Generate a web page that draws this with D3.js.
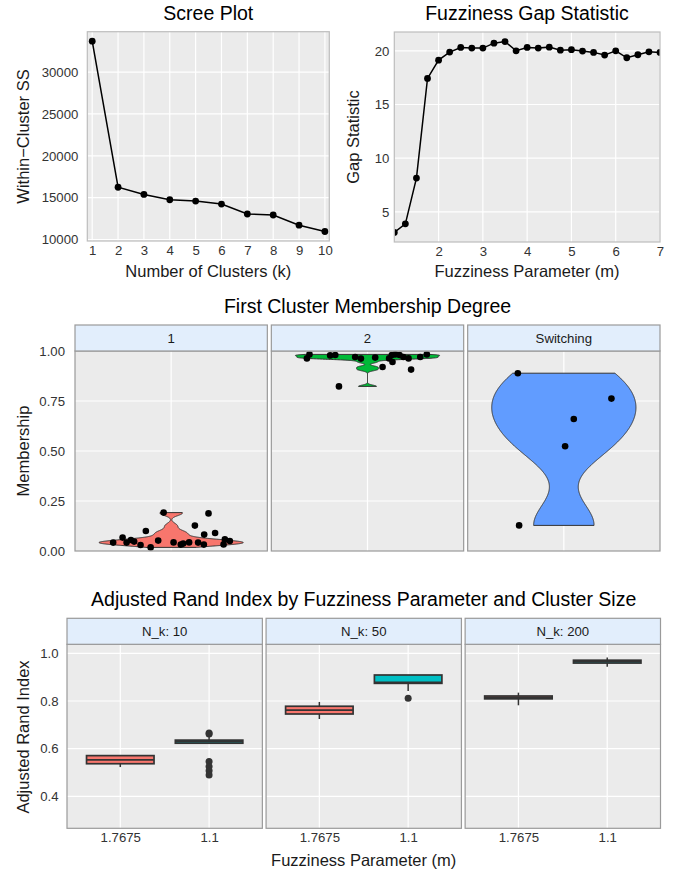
<!DOCTYPE html>
<meta charset="utf-8">
<style>
  body { margin: 0; background: #fff; }
  text { font-family: 'Liberation Sans', Arial, sans-serif; fill: #1a1a1a; }
  .tick text { font-size: 13.2px; fill: #333; }
  .axis-title { font-size: 16.5px; }
  .plot-title { font-size: 19.5px; fill: #000; }
  .strip-text { font-size: 13.2px; }
</style>
<body>
<script src="https://d3js.org/d3.v7.min.js"></script>
<script>

// ---- scree plot data
const screeK = [1, 2, 3, 4, 5, 6, 7, 8, 9, 10];
const screeSS = [33680, 16250, 15390, 14760, 14600, 14240, 13060, 12940, 11720, 10970];
const screeYTicks = [10000, 15000, 20000, 25000, 30000];

// ---- fuzziness gap statistic data
const gapM = [1, 1.25, 1.5, 1.75, 2, 2.25, 2.5, 2.75, 3, 3.25, 3.5, 3.75, 4, 4.25, 4.5,
              4.75, 5, 5.25, 5.5, 5.75, 6, 6.25, 6.5, 6.75, 7];
const gapStat = [3.09, 3.89, 8.15, 17.43, 19.13, 19.88, 20.31, 20.25, 20.25, 20.71, 20.86, 20.0, 20.31,
                 20.25, 20.34, 20.06, 20.1, 19.97, 19.85, 19.6, 20.0, 19.35, 19.63, 19.9, 19.85];
const gapXTicks = [2, 3, 4, 5, 6, 7];
const gapYTicks = [5, 10, 15, 20];

// ---- membership (violin + jittered points), jitter in x units
const memGroups = ["1", "2", "Switching"];
const memColors = ["#F8766D", "#00BA38", "#619CFF"];
const mem1 = [0.042, 0.067, 0.042, 0.055, 0.047, 0.030, 0.100, 0.018, 0.052, 0.192, 0.043, 0.032,
              0.037, 0.043, 0.127, 0.042, 0.032, 0.082, 0.188, 0.090, 0.033, 0.058, 0.050];
const jit1 = [-0.362, -0.303, -0.278, -0.251, -0.231, -0.191, -0.158, -0.128, -0.081, -0.047, 0.015, 0.060,
              0.075, 0.112, 0.148, 0.168, 0.204, 0.206, 0.233, 0.274, 0.327, 0.335, 0.366];
const mem2 = [0.963, 0.983, 0.978, 0.980, 0.823, 0.970, 0.962, 0.967, 0.920, 0.963, 0.980, 0.945,
              0.983, 0.980, 0.970, 0.963, 0.907, 0.970, 0.983];
const jit2 = [-0.378, -0.362, -0.233, -0.201, -0.178, -0.077, -0.041, 0.048, 0.094, 0.135, 0.152, 0.156,
              0.173, 0.200, 0.224, 0.256, 0.272, 0.329, 0.370];
const mem3 = [0.889, 0.762, 0.660, 0.524, 0.128];
const jit3 = [-0.287, 0.297, 0.062, 0.008, -0.279];
const memYTicks = [0, 0.25, 0.5, 0.75, 1];

// ---- adjusted rand index boxplots (order: N_k 10, 50, 200 x m 1.7675, 1.1)
const ariSizes = ["N_k: 10", "N_k: 50", "N_k: 200"];
const ariM = ["1.7675", "1.1"];
const ariColors = ["#F8766D", "#00BFC4"];
const ariLo  = [0.523, 0.622, 0.7245, 0.842, 0.782, 0.944];
const ariQ1  = [0.537, 0.623, 0.7455, 0.874, 0.809, 0.959];
const ariMed = [0.553, 0.630, 0.762, 0.878, 0.815, 0.965];
const ariQ3  = [0.571, 0.636, 0.778, 0.909, 0.821, 0.971];
const ariHi  = [0.571, 0.650, 0.796, 0.909, 0.835, 0.982];
const ariOut = [[], [0.666, 0.662, 0.546, 0.525, 0.508, 0.490], [], [0.811], [], []];
const ariYTicks = [0.4, 0.6, 0.8, 1.0];

const svg = d3.select("body").append("svg")
    .attr("width", 686)
    .attr("height", 873);

function padded(v) {
  var lo = d3.min(v), hi = d3.max(v), r = hi - lo;
  return [lo - 0.05 * r, hi + 0.05 * r];
}

function bg(x0, x1, y0, y1) {
  svg.append("rect").attr("x", x0).attr("y", y0).attr("width", x1 - x0).attr("height", y1 - y0)
      .attr("fill", "#EBEBEB");
}
function frame(x0, x1, y0, y1, col) {
  svg.append("rect").attr("x", x0).attr("y", y0).attr("width", x1 - x0).attr("height", y1 - y0)
      .attr("fill", "none").attr("stroke", col || "#9a9a9a").attr("stroke-width", 1.2);
}
function hgrid(vals, y, x0, x1) {
  svg.append("g").selectAll("line").data(vals).enter().append("line")
      .attr("x1", x0).attr("x2", x1).attr("y1", d => y(d)).attr("y2", d => y(d))
      .attr("stroke", "#fff").attr("stroke-width", 1.2);
}
function vgrid(vals, x, y0, y1) {
  svg.append("g").selectAll("line").data(vals).enter().append("line")
      .attr("y1", y0).attr("y2", y1).attr("x1", d => x(d)).attr("x2", d => x(d))
      .attr("stroke", "#fff").attr("stroke-width", 1.2);
}
function title(x, y, str, cls) {
  svg.append("text").attr("class", cls).attr("x", x).attr("y", y).attr("dy", "0.35em")
      .attr("text-anchor", "middle").text(str);
}
function ytitle(x, y, str) {
  svg.append("text").attr("class", "axis-title")
      .attr("transform", "translate(" + x + "," + y + ") rotate(-90)")
      .attr("dy", "0.35em").attr("text-anchor", "middle").text(str);
}
function leftAxis(y, x, ticks, pad, fmt) {
  var g = svg.append("g").attr("transform", "translate(" + x + ",0)")
      .call(d3.axisLeft(y).tickValues(ticks).tickSize(0).tickPadding(pad).tickFormat(fmt));
  g.select(".domain").remove();
  g.selectAll("text").attr("fill", "#2a2a2a");
}
function bottomAxis(x, y, ticks, pad, fmt) {
  var ax = d3.axisBottom(x).tickSize(0).tickPadding(pad);
  if (ticks) ax.tickValues(ticks);
  if (fmt) ax.tickFormat(fmt);
  var g = svg.append("g").attr("transform", "translate(0," + y + ")").call(ax);
  g.select(".domain").remove();
  g.selectAll("text").attr("fill", "#2a2a2a");
}

// ================= Scree plot
var x1 = d3.scaleLinear().domain([0.81, 10.17]).range([87.3, 329.3]);
var y1 = d3.scaleLinear().domain(padded(screeSS)).range([241, 31.7]);
bg(87.3, 329.3, 31.7, 241);
hgrid(screeYTicks, y1, 87.3, 329.3);
vgrid(screeK, x1, 31.7, 241);
svg.append("path").datum(screeK)
    .attr("fill", "none").attr("stroke", "#000").attr("stroke-width", 1.5)
    .attr("d", d3.line().x(d => x1(d)).y((d, i) => y1(screeSS[i])));
svg.append("g").selectAll("circle").data(screeK).enter().append("circle")
    .attr("cx", d => x1(d)).attr("cy", (d, i) => y1(screeSS[i])).attr("r", 3.4).attr("fill", "#000");
frame(87.3, 329.3, 31.7, 241, "#bdbdbd");
leftAxis(y1, 87.3, screeYTicks, 9, d3.format("d"));
bottomAxis(x1, 241, screeK, 4.4, d3.format("d"));
title(208.3, 13, "Scree Plot", "plot-title");
title(208.3, 271, "Number of Clusters (k)", "axis-title");
ytitle(23.5, 136.5, "Within\u2212Cluster SS");

// ================= Fuzziness gap statistic
var x2 = d3.scaleLinear().domain([1, 7]).range([394.3, 660]);
var y2 = d3.scaleLinear().domain(padded(gapStat)).range([242, 32]);
bg(394.3, 660, 32, 242);
hgrid(gapYTicks, y2, 394.3, 660);
vgrid(gapXTicks, x2, 32, 242);
svg.append("clipPath").attr("id", "clipGap").append("rect")
    .attr("x", 394.3).attr("y", 32).attr("width", 660 - 394.3).attr("height", 210);
var gg = svg.append("g").attr("clip-path", "url(#clipGap)");
gg.append("path").datum(gapM)
    .attr("fill", "none").attr("stroke", "#000").attr("stroke-width", 1.5)
    .attr("d", d3.line().x(d => x2(d)).y((d, i) => y2(gapStat[i])));
gg.selectAll("circle").data(gapM).enter().append("circle")
    .attr("cx", d => x2(d)).attr("cy", (d, i) => y2(gapStat[i])).attr("r", 3.4).attr("fill", "#000");
frame(394.3, 660, 32, 242, "#bdbdbd");
leftAxis(y2, 394.3, gapYTicks, 5, d3.format("d"));
bottomAxis(x2, 242, gapXTicks, 4.4, d3.format("d"));
title(527, 13, "Fuzziness Gap Statistic", "plot-title");
title(527, 271, "Fuzziness Parameter (m)", "axis-title");
ytitle(353.5, 137, "Gap Statistic");

// ================= Membership violins
function nrd0(v) {
  var s = d3.deviation(v);
  var iqr = d3.quantile(v, 0.75) - d3.quantile(v, 0.25);
  var lo = Math.min(s, iqr / 1.34);
  if (!(lo > 0)) lo = s || 1;
  return 0.9 * lo * Math.pow(v.length, -0.2);
}
function kde(v) {
  var bw = nrd0(v), lo = d3.min(v), hi = d3.max(v);
  return d3.range(512).map(function(i) {
    var y = lo + (hi - lo) * i / 511;
    return [y, d3.sum(v, x => Math.exp(-0.5 * ((y - x) / bw) * ((y - x) / bw)))];
  });
}

var memVals = [mem1, mem2, mem3];
var memJit = [jit1, jit2, jit3];
var yM = d3.scaleLinear().domain([0, 1]).range([551, 351]);
var mLeft = 75, mRight = 660, mGap = 4, mW = (mRight - mLeft - 2 * mGap) / 3;
memGroups.forEach(function(grp, i) {
  var px0 = mLeft + i * (mW + mGap), px1 = px0 + mW;
  var xs = d3.scalePoint().domain([grp]).range([px0, px1]).padding(0.6);
  var cx = xs(grp), step = xs.step();
  bg(px0, px1, 351, 551);
  hgrid([0.25, 0.5, 0.75], yM, px0, px1);
  vgrid([grp], xs, 351, 551);
  var dens = kde(memVals[i]);
  var dmax = d3.max(dens, d => d[1]);
  svg.append("path").datum(dens)
      .attr("fill", memColors[i]).attr("stroke", "#333").attr("stroke-width", 1)
      .attr("d", d3.area()
          .y(d => yM(d[0]))
          .x0(d => cx - 0.45 * step * d[1] / dmax)
          .x1(d => cx + 0.45 * step * d[1] / dmax));
  svg.append("g").selectAll("circle").data(memVals[i]).enter().append("circle")
      .attr("cx", (d, j) => cx + memJit[i][j] * step)
      .attr("cy", d => yM(d)).attr("r", 3.3).attr("fill", "#000");
  frame(px0, px1, 351, 551);
  svg.append("rect").attr("x", px0).attr("y", 325).attr("width", mW).attr("height", 26)
      .attr("fill", "#E2EEFC").attr("stroke", "#9a9a9a").attr("stroke-width", 1.2);
  svg.append("text").attr("class", "strip-text").attr("x", cx).attr("y", 338).attr("dy", "0.35em")
      .attr("text-anchor", "middle").text(grp);
});
leftAxis(yM, mLeft, memYTicks, 10, d3.format(".2f"));
title(367.5, 305.7, "First Cluster Membership Degree", "plot-title");
ytitle(23, 451, "Membership");

// ================= ARI boxplots
var yA = d3.scaleLinear().domain([0.2663, 1.0377]).range([828.3, 644.3]);
var aLeft = 67, aRight = 660.5, aGap = 3.7, aW = (aRight - aLeft - 2 * aGap) / 3;
ariSizes.forEach(function(sz, i) {
  var px0 = aLeft + i * (aW + aGap), px1 = px0 + aW;
  var xs = d3.scalePoint().domain(ariM).range([px0, px1]).padding(0.6);
  var bw = 0.76 * xs.step();
  bg(px0, px1, 644.3, 828.3);
  hgrid(ariYTicks, yA, px0, px1);
  vgrid(ariM, xs, 644.3, 828.3);
  ariM.forEach(function(m, j) {
    var k = i * 2 + j, cx = xs(m);
    var g = svg.append("g");
    g.append("line").attr("x1", cx).attr("x2", cx).attr("y1", yA(ariHi[k])).attr("y2", yA(ariLo[k]))
        .attr("stroke", "#333").attr("stroke-width", 1.5);
    g.append("rect").attr("x", cx - bw / 2).attr("width", bw)
        .attr("y", yA(ariQ3[k])).attr("height", yA(ariQ1[k]) - yA(ariQ3[k]))
        .attr("fill", ariColors[j]).attr("stroke", "#333").attr("stroke-width", 1.7);
    g.append("line").attr("x1", cx - bw / 2).attr("x2", cx + bw / 2)
        .attr("y1", yA(ariMed[k])).attr("y2", yA(ariMed[k]))
        .attr("stroke", "#333").attr("stroke-width", 1.8);
    g.selectAll("circle").data(ariOut[k]).enter().append("circle")
        .attr("cx", cx).attr("cy", d => yA(d)).attr("r", 3.5).attr("fill", "#333");
  });
  frame(px0, px1, 644.3, 828.3);
  svg.append("rect").attr("x", px0).attr("y", 618.3).attr("width", aW).attr("height", 26)
      .attr("fill", "#E2EEFC").attr("stroke", "#9a9a9a").attr("stroke-width", 1.2);
  svg.append("text").attr("class", "strip-text").attr("x", (px0 + px1) / 2).attr("y", 631.3)
      .attr("dy", "0.35em").attr("text-anchor", "middle").text(sz);
  bottomAxis(xs, 828.3, null, 4.6, null);
});
leftAxis(yA, aLeft, ariYTicks, 8.5, d3.format(".1f"));
title(363.7, 599.3, "Adjusted Rand Index by Fuzziness Parameter and Cluster Size", "plot-title");
title(363.7, 860, "Fuzziness Parameter (m)", "axis-title");
ytitle(22.8, 737, "Adjusted Rand Index");

</script>
</body>
